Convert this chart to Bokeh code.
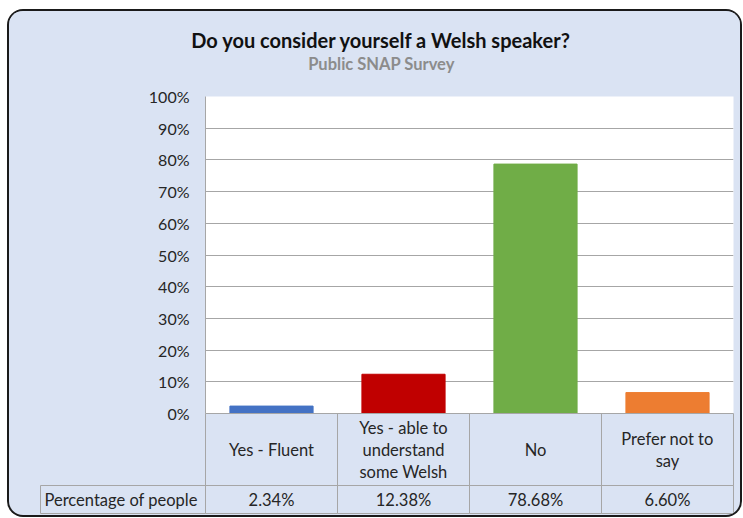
from bokeh.plotting import figure
from bokeh.layouts import column
from bokeh.models import Range1d, FixedTicker, NumeralTickFormatter, ColumnDataSource
from bokeh.core.properties import value
from bokeh.embed import file_html
from bokeh.resources import INLINE

# ---- data ----
title_text = "Do you consider yourself a Welsh speaker?"
subtitle_text = "Public SNAP Survey"
categories = ["Yes - Fluent", "Yes - able to understand some Welsh", "No", "Prefer not to say"]
category_labels = ["Yes - Fluent", "Yes - able to\nunderstand\nsome Welsh", "No", "Prefer not to\nsay"]
percentages = [2.34, 12.38, 78.68, 6.60]
bar_colors = ["#4472C4", "#C00000", "#70AD47", "#ED7D31"]
row_header = "Percentage of people"
y_ticks = [0.0, 0.1, 0.2, 0.3, 0.4, 0.5, 0.6, 0.7, 0.8, 0.9, 1.0]

# ---- style / layout constants ----
FONT = "Lato"
BG = "#DAE3F3"
GRID = "#A6A6A6"
TEXT = "#262626"
W = 731
HEAD_H = 73
FRAME_H = 317
TOP_PAD = 12
AX_H = 14
TOP_H = TOP_PAD + FRAME_H + AX_H
BOT_H = 102
COL_PX = 132.0
LEFT_PX = 196.0

common = dict(output_backend="svg", toolbar_location=None,
              outline_line_color=None, frame_align=False)

n = len(categories)
idx = list(range(n))
centers = [i + 0.5 for i in idx]

# ---- header (title + subtitle) ----
h = figure(width=W, height=HEAD_H, x_range=Range1d(0, W), y_range=Range1d(0, HEAD_H),
           x_axis_location=None, y_axis_location=None, min_border=0,
           background_fill_color=BG, border_fill_color=BG, **common)
h.grid.visible = False
h.text(x=[372], y=[HEAD_H - 28], text=[title_text], text_align="center", text_baseline="middle",
       text_font=value(FONT), text_font_size="20px", text_font_style="bold", text_color="#111111")
h.text(x=[372], y=[HEAD_H - 52], text=[subtitle_text], text_align="center", text_baseline="middle",
       text_font=value(FONT), text_font_size="16.5px", text_font_style="bold", text_color="#8C8C8C")

# ---- chart ----
p = figure(width=W, height=TOP_H, x_range=Range1d(0, n), y_range=Range1d(0, 1),
           min_border_left=int(LEFT_PX), min_border_right=7,
           min_border_top=TOP_PAD, min_border_bottom=AX_H,
           background_fill_color="white", border_fill_color=BG, **common)

src = ColumnDataSource(dict(x=centers, frac=[v / 100 for v in percentages], color=bar_colors,
                            cat=categories))
p.vbar(x="x", top="frac", width=0.63, color="color", source=src)

p.yaxis.ticker = FixedTicker(ticks=y_ticks)
p.yaxis.formatter = NumeralTickFormatter(format="0%")
p.yaxis.major_tick_line_color = None
p.yaxis.minor_tick_line_color = None
p.yaxis.axis_line_color = GRID
p.yaxis.major_label_standoff = 10
p.yaxis.major_label_text_font = FONT
p.yaxis.major_label_text_font_size = "16px"
p.yaxis.major_label_text_color = TEXT
p.ygrid.ticker = FixedTicker(ticks=y_ticks)
p.ygrid.grid_line_color = GRID
p.xgrid.grid_line_color = None

# x axis: only its line (top edge of the data table)
p.xaxis.ticker = FixedTicker(ticks=[], minor_ticks=[])
p.xaxis.major_label_text_font_size = "1px"
p.xaxis.major_label_standoff = 0
p.xaxis.major_tick_in = 0
p.xaxis.major_tick_out = 0
p.xaxis.major_tick_line_color = None
p.xaxis.minor_tick_line_color = None
p.xaxis.axis_line_color = GRID

# ---- data table below (transparent, overlapping the axis strip) ----
t = figure(width=W, height=BOT_H, x_range=Range1d(-LEFT_PX / COL_PX, (W - LEFT_PX) / COL_PX),
           y_range=Range1d(0, BOT_H), x_axis_location=None, y_axis_location=None,
           min_border=0, background_fill_color=None, background_fill_alpha=0,
           border_fill_color=None, border_fill_alpha=0,
           margin=(-AX_H, 0, 0, 0), **common)
t.grid.visible = False

ROW_TOP = BOT_H + 5
ROW_SPLIT = BOT_H - 72
ROW_BOT = BOT_H - 100
CAT_Y = BOT_H - 36
t.quad(left=idx, right=[i + 1 for i in idx], bottom=ROW_SPLIT, top=ROW_TOP,
       fill_color=None, line_color=GRID)
t.quad(left=idx, right=[i + 1 for i in idx], bottom=ROW_BOT, top=ROW_SPLIT,
       fill_color=None, line_color=GRID)
t.quad(left=[-165 / COL_PX], right=[0], bottom=ROW_BOT, top=ROW_SPLIT,
       fill_color=None, line_color=GRID)

t.text(x=centers, y=CAT_Y, text=category_labels,
       text_align="center", text_baseline="middle", text_font=value(FONT),
       text_font_size="16.5px", text_color=TEXT, text_line_height=1.1)
t.text(x=centers, y=(ROW_BOT + ROW_SPLIT) / 2,
       text=[f"{v:.2f}%" for v in percentages],
       text_align="center", text_baseline="middle", text_font=value(FONT),
       text_font_size="16.5px", text_color=TEXT)
t.text(x=[-161 / COL_PX], y=(ROW_BOT + ROW_SPLIT) / 2, text=[row_header],
       text_align="left", text_baseline="middle", text_font=value(FONT),
       text_font_size="16.5px", text_color=TEXT)

layout = column(h, p, t, spacing=0, margin=(11, 0, 0, 9),
                styles={"border-radius": "14px", "overflow": "hidden",
                        "background-color": BG,
                        "box-shadow": "0 0 0 2px #1a1a1a"})

open("out.html", "w").write(file_html(layout, INLINE))
